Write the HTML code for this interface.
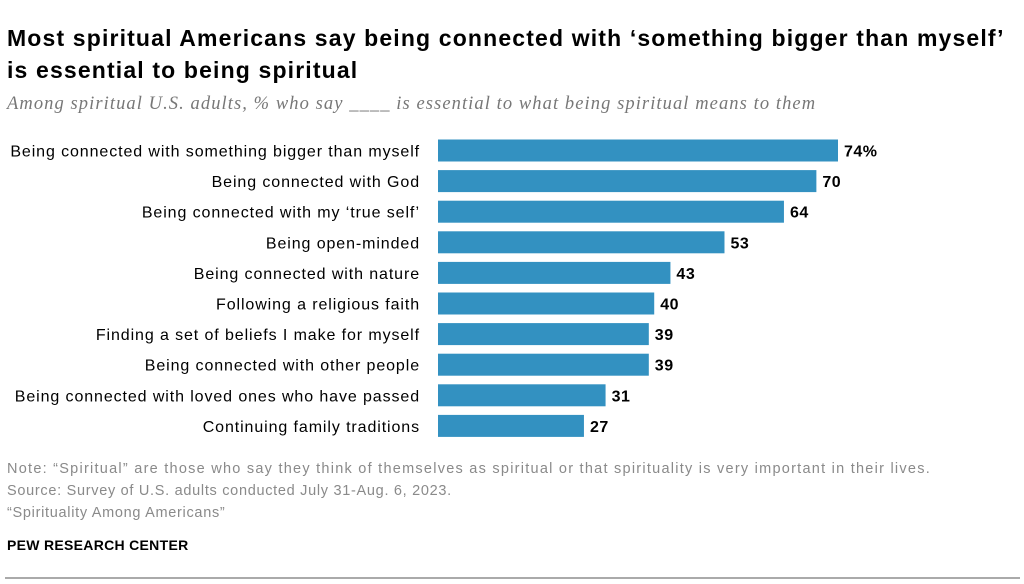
<!DOCTYPE html>
<html><head><meta charset="utf-8"><style>
body{margin:0;background:#fff;width:1024px;height:584px;overflow:hidden;font-family:"Liberation Sans",sans-serif;position:relative}
.t{position:absolute;left:7px;top:22px;font-size:23px;letter-spacing:1.15px;font-weight:bold;color:#000;line-height:32px;width:1015px;white-space:nowrap}
.s{position:absolute;left:7px;top:94px;font-family:"Liberation Serif",serif;font-style:italic;font-size:18.5px;letter-spacing:1.08px;color:#777;white-space:nowrap}
.n{position:absolute;left:7px;font-size:14.5px;letter-spacing:1.25px;color:#8a8a8a;white-space:nowrap}
.p{position:absolute;left:7px;top:537px;font-size:14px;font-weight:bold;color:#000;letter-spacing:0.3px}
.line{position:absolute;left:5px;top:577px;width:1015px;height:2px;background:#aaa}
</style></head><body>
<div class="t">Most spiritual Americans say being connected with ‘something bigger than myself’<br>is essential to being spiritual</div>
<div class="s">Among spiritual U.S. adults, % who say ____ is essential to what being spiritual means to them</div>
<svg id="c" width="1024" height="584" style="position:absolute;left:0;top:0"></svg>
<div class="n" style="top:461px">Note: “Spiritual” are those who say they think of themselves as spiritual or that spirituality is very important in their lives.</div>
<div class="n" style="top:483px;letter-spacing:0.7px">Source: Survey of U.S. adults conducted July 31-Aug. 6, 2023.</div>
<div class="n" style="top:505px;letter-spacing:0.7px">“Spirituality Among Americans”</div>
<div class="p">PEW RESEARCH CENTER</div>
<div class="line"></div>
<script>
const categories=["Being connected with something bigger than myself","Being connected with God","Being connected with my ‘true self’","Being open-minded","Being connected with nature","Following a religious faith","Finding a set of beliefs I make for myself","Being connected with other people","Being connected with loved ones who have passed","Continuing family traditions"];
const values=[74,70,64,53,43,40,39,39,31,27];
const valueLabels=["74%","70","64","53","43","40","39","39","31","27"];
const svg=document.getElementById('c');const NS='http://www.w3.org/2000/svg';
const x=v=>438+v*400/74;const y=i=>139.5+i*30.6;
categories.forEach((c,i)=>{
 const r=document.createElementNS(NS,'rect');
 r.setAttribute('x',438);r.setAttribute('y',y(i));r.setAttribute('width',x(values[i])-438);r.setAttribute('height',22);r.setAttribute('fill','#3391c1');
 
 
 svg.appendChild(r);
 const l=document.createElementNS(NS,'text');
 l.setAttribute('x',420);l.setAttribute('y',y(i)+17);l.setAttribute('text-anchor','end');l.setAttribute('font-size','16');l.setAttribute('letter-spacing','0.9');l.setAttribute('fill','#000');l.setAttribute('font-family','Liberation Sans, sans-serif');l.textContent=c;
 
 
 svg.appendChild(l);
 const v=document.createElementNS(NS,'text');
 v.setAttribute('x',x(values[i])+6);v.setAttribute('y',y(i)+17);v.setAttribute('font-size','16');v.setAttribute('letter-spacing','0.5');v.setAttribute('font-weight','bold');v.setAttribute('font-family','Liberation Sans, sans-serif');v.textContent=valueLabels[i];
 
 
 svg.appendChild(v);
});
</script>
</body></html>
